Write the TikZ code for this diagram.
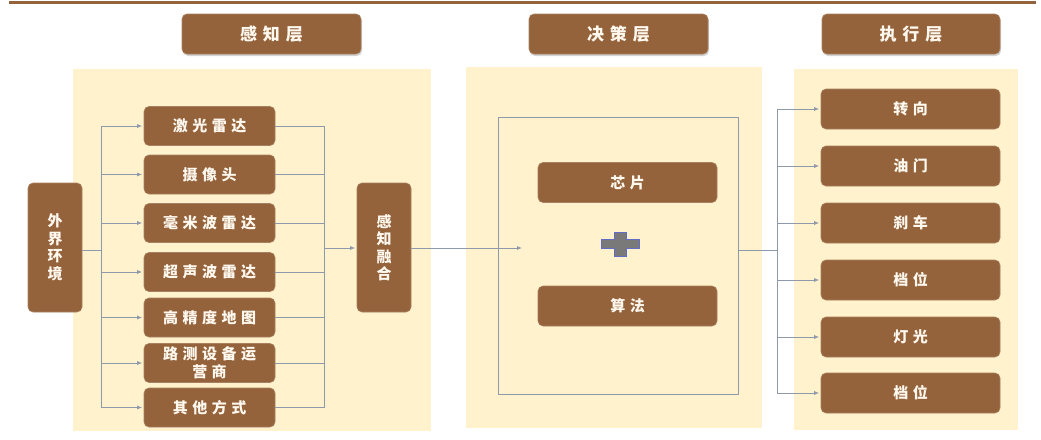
\documentclass[tikz,border=0pt]{standalone}
\usepackage{fontspec}
\newfontfamily\cjk[LetterSpace=30]{Noto Sans CJK SC}
\newfontfamily\cjkh[LetterSpace=35]{Noto Sans CJK SC}
\usetikzlibrary{arrows.meta,shadows,calc}
\definecolor{brn}{HTML}{94623B}
\definecolor{cream}{HTML}{FFF2CC}
\definecolor{ln}{HTML}{8E9AAB}
\definecolor{txt}{HTML}{FFF8EE}
\begin{document}
\begin{tikzpicture}[x=1pt,y=-1pt,
  box/.style={fill=brn, draw=brn!80!white, line width=0.6pt, rounded corners=5pt, text=txt, inner sep=0pt,
     font=\cjk\bfseries\fontsize{15}{19}\selectfont, align=center},
  hdr/.style={box, font=\cjkh\bfseries\fontsize{17}{20}\selectfont,
     drop shadow={shadow xshift=1pt, shadow yshift=-2pt, opacity=0.35}},
  vbox/.style={box, minimum width=54pt, minimum height=129pt, font=\cjk\bfseries\fontsize{15}{17.5}\selectfont},
  panel/.style={fill=cream, draw=none},
  conn/.style={draw=ln, line width=0.8pt},
  arr/.style={conn, -{Latex[length=5pt,width=4pt]}, shorten >=1.5pt}]
\useasboundingbox (0,0) rectangle (1041,439);
% top rule
\draw[brn, line width=3pt] (9,2.5) -- (1036,2.5);
% panels
\fill[panel] (73,69) rectangle (431,431);
\fill[panel] (466,67) rectangle (762,428);
\fill[panel] (794,69) rectangle (1018,430);
% headers
\node[hdr, minimum width=179pt, minimum height=40pt] (h1) at (271.5,34) {感知层};
\node[hdr, minimum width=179pt, minimum height=40pt] (h2) at (618.5,34) {决策层};
\node[hdr, minimum width=178pt, minimum height=40pt] (h3) at (911,34) {执行层};
% perception
\node[vbox] (env) at (55,247.5) {外\\界\\环\\境};
\node[vbox] (fuse) at (384,247.5) {感\\知\\融\\合};
\tikzset{sb/.style={box, minimum width=131pt, minimum height=39pt}}
\node[sb] (s1) at (209.5,126) {激光雷达};
\node[sb] (s2) at (209.5,174.5) {摄像头};
\node[sb] (s3) at (209.5,223) {毫米波雷达};
\node[sb] (s4) at (209.5,272) {超声波雷达};
\node[sb] (s5) at (209.5,317.5) {高精度地图};
\node[sb, font=\cjk\bfseries\fontsize{15}{18}\selectfont] (s6) at (209.5,363) {路测设备运\\营商};
\node[sb] (s7) at (209.5,407.5) {其他方式};
\coordinate (tl) at (101,250);
\coordinate (tr) at (324,248);
\draw[conn] (env.east |- tl) -- (tl);
\draw[conn] (tl |- s1) -- (tl |- s7);
\foreach \s in {s1,s2,s3,s4,s5,s6,s7}{
  \draw[arr] (tl |- \s.west) -- (\s.west);
  \draw[conn] (\s.east) -- (tr |- \s.east);
}
\draw[conn] (tr |- s1) -- (tr |- s7);
\draw[arr] (tr) -- (tr -| fuse.west);
% decision
\node[draw=ln, line width=0.8pt, minimum width=240pt, minimum height=277pt, inner sep=0pt] (frame) at (618,255.5) {};
\node[box, minimum width=179pt, minimum height=40pt] (chip) at (627.5,182.5) {芯片};
\node[box, minimum width=179pt, minimum height=40pt] (algo) at (627.5,306) {算法};
\draw[fill=gray!95!black, draw=ln!70!blue, line width=0.6pt]
  (614,232) -- (626,232) -- (626,239) -- (639,239) -- (639,248) -- (626,248) -- (626,256)
  -- (614,256) -- (614,248) -- (601,248) -- (601,239) -- (614,239) -- cycle;
\coordinate (fin) at (522,248);
\draw[arr, shorten >=0pt] (fuse.east |- fin) -- (fin);
% execution
\tikzset{eb/.style={box, minimum width=179pt, minimum height=40pt}}
\node[eb] (e1) at (910.5,109) {转向};
\node[eb] (e2) at (910.5,166) {油门};
\node[eb] (e3) at (910.5,223) {刹车};
\node[eb] (e4) at (910.5,280) {档位};
\node[eb] (e5) at (910.5,337) {灯光};
\node[eb] (e6) at (910.5,393) {档位};
\coordinate (te) at (777,250);
\draw[conn] (frame.east |- te) -- (te);
\draw[conn] (te |- e1) -- (te |- e6);
\foreach \e in {e1,e2,e3,e4,e5,e6}{
  \draw[arr] (te |- \e.west) -- (\e.west);
}
\end{tikzpicture}
\end{document}
